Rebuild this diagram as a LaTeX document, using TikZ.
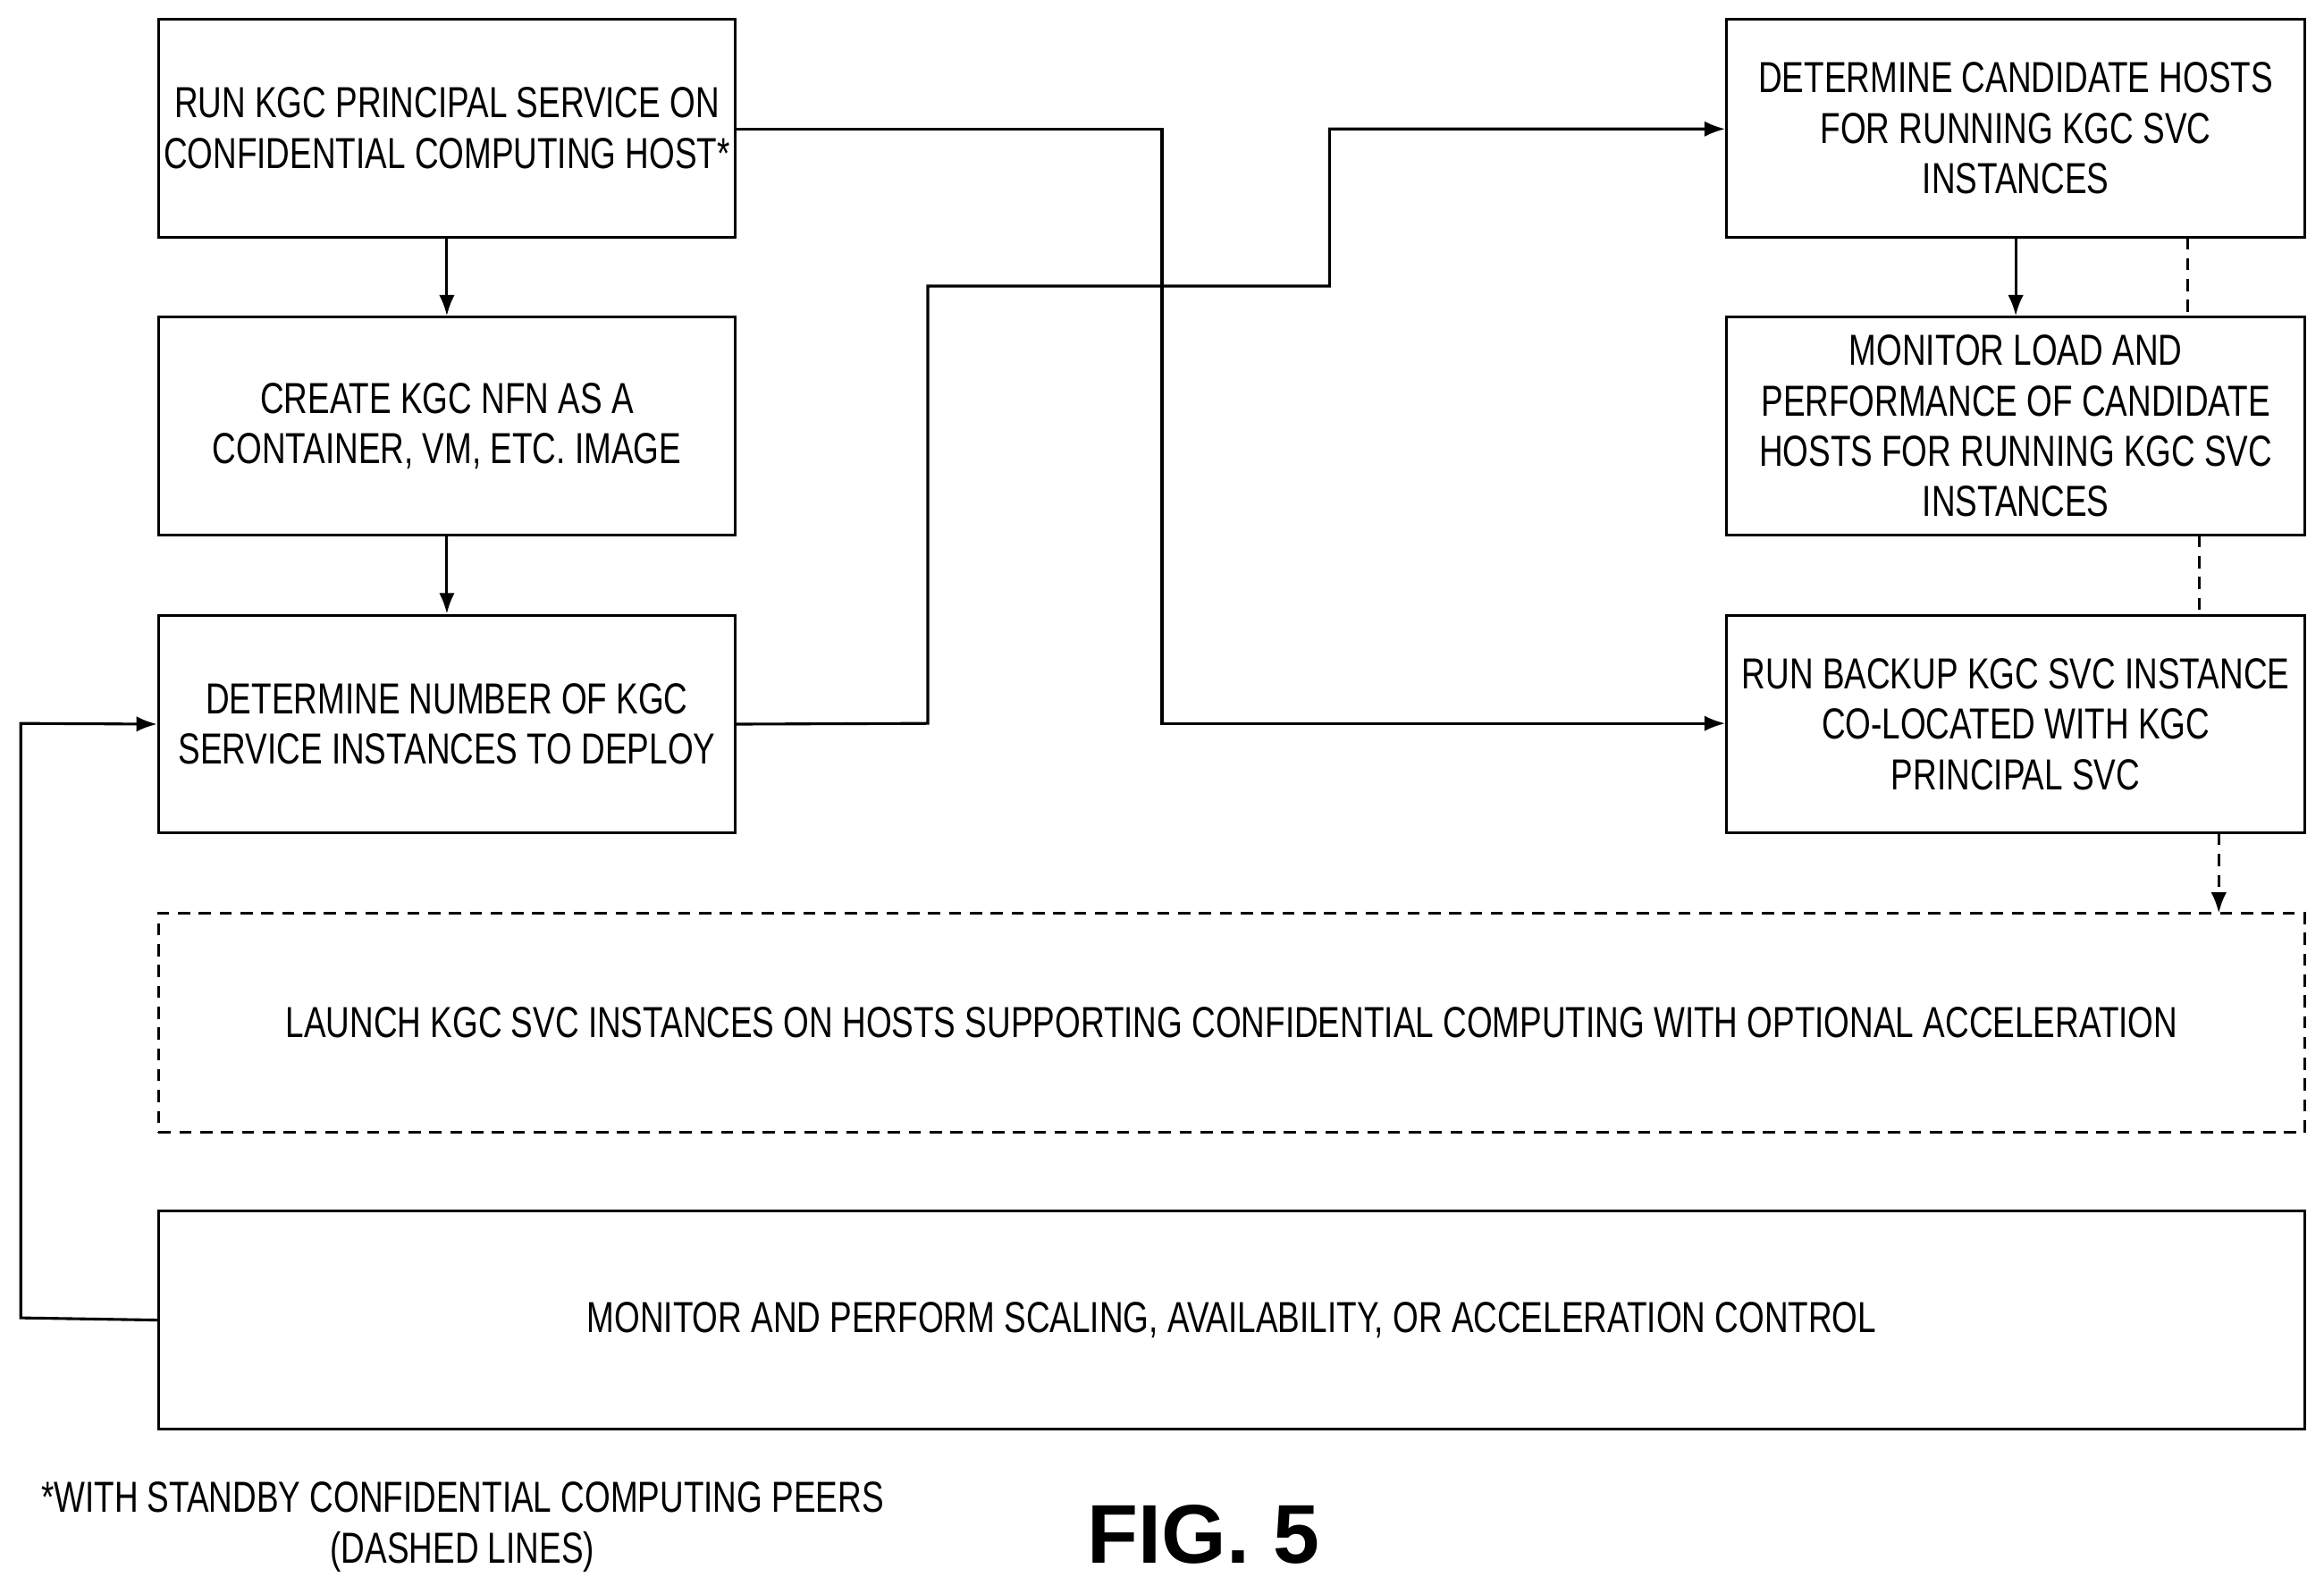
\documentclass[tikz,border=0pt]{standalone}
\usepackage{fontspec}
\setmainfont{Liberation Sans}[FakeStretch=0.76]
\newfontfamily\figfont{Liberation Sans}
\usetikzlibrary{arrows.meta}
\begin{document}
\begin{tikzpicture}[x=0.03cm,y=-0.03cm,
  box/.style={draw,line width=1.6pt,align=center,inner sep=0pt},
  arr/.style={line width=1.6pt,-{Latex[length=12pt,width=9pt]}},
  dl/.style={line width=1.6pt,dash pattern=on 7pt off 5pt}]
\useasboundingbox (0,0) rectangle (1568,1075);
\newcommand{\bx}[6]{\node[box,#6,minimum width={(#4-#2)*0.03cm},minimum height={(#5-#3)*0.03cm}] (#1) at ({(#2+#4)/2},{(#3+#5)/2}) {};}
\bx{A}{107}{13}{496}{160}{}
\bx{B}{107}{214}{496}{361}{}
\bx{C}{107}{415}{496}{562}{}
\bx{D}{1165}{13}{1555}{160}{}
\bx{E}{1165}{214}{1555}{361}{}
\bx{F}{1165}{415}{1555}{562}{}
\bx{G}{107}{616}{1555}{764}{dl}
\bx{H}{107}{817}{1555}{964}{}
\tikzset{t/.style={align=center,font=\fontsize{25}{29}\selectfont}}
\node[t] (tA) at (A) {RUN KGC PRINCIPAL SERVICE ON\\CONFIDENTIAL COMPUTING HOST*};
\node[t] (tB) at (B) {CREATE KGC NFN AS A\\CONTAINER, VM, ETC. IMAGE};
\node[t] (tC) at (C) {DETERMINE NUMBER OF KGC\\SERVICE INSTANCES TO DEPLOY};
\node[t] (tD) at (D) {DETERMINE CANDIDATE HOSTS\\FOR RUNNING KGC SVC\\INSTANCES};
\node[t] (tE) at (E) {MONITOR LOAD AND\\PERFORMANCE OF CANDIDATE\\HOSTS FOR RUNNING KGC SVC\\INSTANCES};
\node[t] (tF) at (F) {RUN BACKUP KGC SVC INSTANCE\\CO-LOCATED WITH KGC\\PRINCIPAL SVC};
\node[t] (tG) at (G) {LAUNCH KGC SVC INSTANCES ON HOSTS SUPPORTING CONFIDENTIAL COMPUTING WITH OPTIONAL ACCELERATION};
\node[t] (tH) at (H) {MONITOR AND PERFORM SCALING, AVAILABILITY, OR ACCELERATION CONTROL};
\node[t] (fn) at (312,1030) {*WITH STANDBY CONFIDENTIAL COMPUTING PEERS\\(DASHED LINES)};
\node[font=\figfont\bfseries\fontsize{48}{48}\selectfont] (fig) at (812,1035) {FIG. 5};
\draw[arr] (A) -- (B);
\draw[arr] (B) -- (C);
\draw[arr] (C.east) -- (626,488) -- (626,193) -- (897,193) -- (897,87) -- (D.west|-0,87);
\draw[arr] (A.east|-0,87) -- (784,87) -- (784,488) -- (F.west|-0,488);
\draw[arr] (D) -- (E);
\draw[dl] (1476,160) -- (1476,214);
\draw[dl] (1484,361) -- (1484,415);
\draw[dl,-{Latex[length=12pt,width=9pt]}] (1497,562) -- (1497,616);
\draw[arr] (H.west) -- (14,889) -- (14,488) -- (C.west);
\end{tikzpicture}
\end{document}
